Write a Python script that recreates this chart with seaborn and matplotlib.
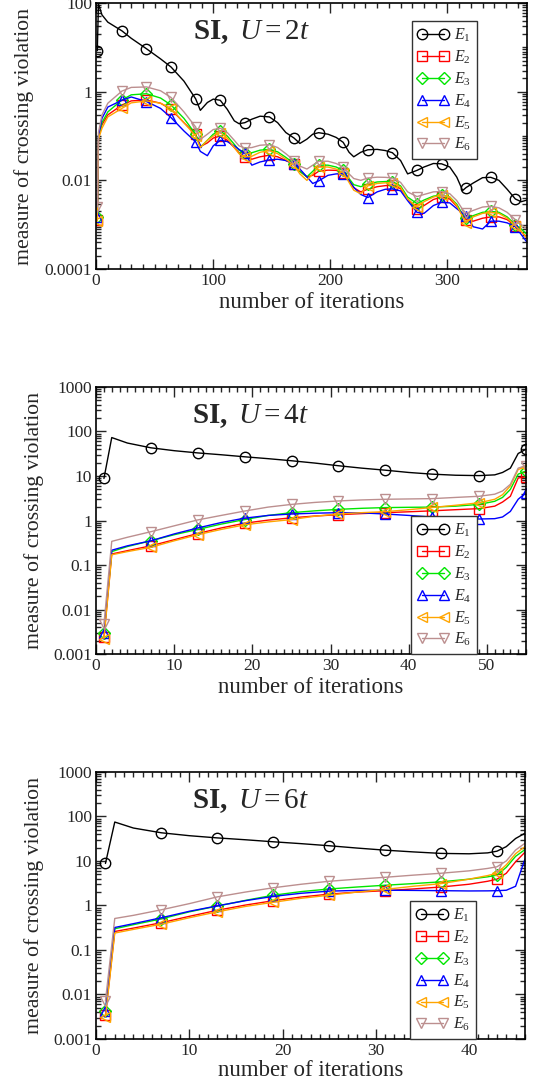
import matplotlib
matplotlib.use("Agg")
import matplotlib.pyplot as plt
import seaborn as sns
import numpy as np
from matplotlib.ticker import FixedLocator, MultipleLocator, FixedFormatter, NullFormatter

# ---------------- data ----------------
series_names = ["E1", "E2", "E3", "E4", "E5", "E6"]
legend_labels = [r"$\mathit{E_1}$", r"$\mathit{E_2}$", r"$\mathit{E_3}$",
                 r"$\mathit{E_4}$", r"$\mathit{E_5}$", r"$\mathit{E_6}$"]

# Panel 1: SI, U=2t
x_u2 = [1, 2, 5, 10, 22, 30, 43, 55, 64, 75, 85, 89, 95, 100, 106, 112, 118, 122, 127, 133,
        140, 148, 155, 162, 169, 174, 180, 185, 190, 198, 205, 211, 216, 220, 226, 232, 240,
        247, 253, 260, 266, 274, 280, 288, 295, 302, 308, 313, 316, 322, 330, 337, 344, 351,
        358, 363, 368]
u2_E1 = [8.4, 95, 54, 37, 23.6, 16, 9.3, 5.5, 3.6, 1.73, 0.69, 0.38, 0.57, 0.68, 0.64,
         0.4, 0.22, 0.19, 0.2, 0.24, 0.28, 0.27, 0.2, 0.12, 0.09, 0.068, 0.085, 0.11, 0.119, 0.11,
         0.093, 0.072, 0.043, 0.034, 0.043, 0.049, 0.05, 0.047, 0.042, 0.028,
         0.014, 0.0168, 0.02, 0.024, 0.0236, 0.02, 0.0118, 0.0059, 0.0069, 0.0087,
         0.0115, 0.0117, 0.01, 0.0063, 0.0038, 0.0033, 0.0036]
u2_E2 = [0.0013, 0.09, 0.18, 0.3, 0.5, 0.62, 0.65, 0.55, 0.4, 0.2,
         0.11, 0.058, 0.07, 0.09, 0.1, 0.08, 0.055, 0.042, 0.034, 0.03,
         0.034, 0.037, 0.034, 0.028, 0.023, 0.016, 0.012, 0.013, 0.016, 0.017,
         0.0168, 0.015, 0.01, 0.0068, 0.0055, 0.0063, 0.0072, 0.0076, 0.0078, 0.0065,
         0.0038, 0.0023, 0.0027, 0.0037, 0.0042, 0.0038, 0.0026, 0.0016, 0.0013, 0.0012,
         0.0014, 0.0015, 0.0015, 0.0013, 0.00095, 0.0007, 0.0005]
u2_E3 = [0.0015, 0.1, 0.2, 0.35, 0.65, 0.85, 0.9, 0.72, 0.5, 0.25,
         0.11, 0.056, 0.08, 0.11, 0.13, 0.1, 0.065, 0.048, 0.041, 0.042,
         0.048, 0.05, 0.044, 0.033, 0.024, 0.016, 0.012, 0.016, 0.022, 0.022,
         0.02, 0.0167, 0.011, 0.008, 0.0072, 0.0083, 0.0092, 0.0094, 0.0094, 0.0075,
         0.0042, 0.003, 0.0036, 0.0044, 0.0047, 0.0042, 0.0029, 0.0017, 0.0014, 0.0016,
         0.0019, 0.002, 0.0019, 0.0015, 0.001, 0.0008, 0.0006]
u2_E4 = [0.0015, 0.1, 0.25, 0.45, 0.64, 0.76, 0.6, 0.42, 0.26, 0.13,
         0.074, 0.045, 0.036, 0.06, 0.08, 0.075, 0.06, 0.05, 0.041, 0.022,
         0.026, 0.029, 0.03, 0.028, 0.024, 0.018, 0.012, 0.0085, 0.0097, 0.013,
         0.014, 0.014, 0.01, 0.007, 0.0048, 0.0041, 0.0055, 0.0063, 0.0064, 0.0058,
         0.0035, 0.0019, 0.0018, 0.0027, 0.0032, 0.0031, 0.0023, 0.0018, 0.0016, 0.0009,
         0.0008, 0.0012, 0.0012, 0.0011, 0.0009, 0.0006, 0.0004]
u2_E5 = [0.0012, 0.085, 0.15, 0.27, 0.42, 0.56, 0.62, 0.55, 0.42, 0.2,
         0.1, 0.055, 0.08, 0.1, 0.12, 0.09, 0.055, 0.04, 0.034, 0.035,
         0.043, 0.047, 0.04, 0.03, 0.022, 0.014, 0.01, 0.014, 0.02, 0.02,
         0.018, 0.015, 0.009, 0.006, 0.005, 0.0075, 0.0085, 0.0088, 0.0088, 0.007,
         0.0038, 0.0025, 0.0033, 0.0042, 0.0047, 0.0042, 0.0027, 0.0015, 0.0011, 0.0015,
         0.0018, 0.0019, 0.0018, 0.0014, 0.00095, 0.0007, 0.0005]
u2_E6 = [0.0025, 0.12, 0.3, 0.55, 1.03, 1.25, 1.28, 1.05, 0.74, 0.35,
         0.16, 0.084, 0.11, 0.14, 0.15, 0.12, 0.08, 0.06, 0.054, 0.055,
         0.062, 0.064, 0.055, 0.04, 0.028, 0.021, 0.018, 0.022, 0.027, 0.027,
         0.024, 0.02, 0.014, 0.011, 0.01, 0.0113, 0.0118, 0.0117, 0.0113, 0.009,
         0.0055, 0.0043, 0.0048, 0.0055, 0.0056, 0.005, 0.0035, 0.0022, 0.0018, 0.0021,
         0.0025, 0.0026, 0.0024, 0.0019, 0.0013, 0.001, 0.0008]
marks_u2 = list(range(1, 359, 21))

# Panel 2: SI, U=4t
x_u4 = [1, 2, 4, 7, 10, 13, 16, 19, 22, 25, 28, 31, 34, 37, 40, 43, 46, 49, 51, 52, 53, 54, 55]
u4_E1 = [8.8, 73, 55, 43, 37, 33, 30, 27, 24.5, 22, 19.5, 17, 15, 13.5, 12, 11, 10.4, 10.2,
         10.6, 12, 15, 32, 40]
u4_E2 = [0.0024, 0.177, 0.21, 0.27, 0.37, 0.51, 0.68, 0.87, 1.02, 1.15, 1.26, 1.35, 1.43, 1.5,
         1.57, 1.65, 1.75, 1.85, 2.1, 2.6, 3.5, 9, 9.6]
u4_E3 = [0.003, 0.2, 0.26, 0.35, 0.48, 0.63, 0.83, 1.05, 1.3, 1.5, 1.65, 1.78, 1.88, 1.95,
         1.98, 2.0, 2.1, 2.3, 2.7, 3.3, 5, 11, 13]
u4_E4 = [0.003, 0.215, 0.27, 0.35, 0.5, 0.68, 0.9, 1.13, 1.3, 1.4, 1.46, 1.5, 1.48, 1.4,
         1.3, 1.2, 1.12, 1.08, 1.1, 1.2, 1.6, 3.0, 4.2]
u4_E5 = [0.0022, 0.17, 0.2, 0.25, 0.35, 0.48, 0.63, 0.8, 0.93, 1.05, 1.25, 1.4, 1.5, 1.58,
         1.75, 1.96, 2.2, 2.5, 3.0, 3.8, 6, 14, 16]
u4_E6 = [0.0047, 0.34, 0.42, 0.56, 0.76, 1.03, 1.3, 1.63, 2.0, 2.3, 2.55, 2.75, 2.9, 3.0,
         3.05, 3.1, 3.3, 3.5, 3.9, 4.6, 6.5, 15, 17]
marks_u4 = list(range(1, 56, 6))

# Panel 3: SI, U=6t
x_u6 = [1, 2, 4, 7, 10, 13, 16, 19, 22, 25, 28, 31, 34, 37, 40, 42, 43, 44, 45, 46]
u6_E1 = [8.8, 75, 55, 43, 37, 33, 30, 27, 24.5, 22, 19.5, 17.5, 16, 14.8, 14.5, 15.2, 16.6,
         21, 32, 42]
u6_E2 = [0.0034, 0.26, 0.31, 0.41, 0.57, 0.78, 1.02, 1.28, 1.55, 1.8, 2.0, 2.15, 2.35, 2.6,
         3.0, 3.5, 3.9, 5.3, 9.6, 15.7]
u6_E3 = [0.0042, 0.3, 0.37, 0.5, 0.72, 0.97, 1.3, 1.7, 2.05, 2.35, 2.6, 2.85, 3.1, 3.4,
         3.9, 4.4, 4.8, 7.2, 12.7, 18]
u6_E4 = [0.0042, 0.32, 0.39, 0.53, 0.74, 0.98, 1.28, 1.6, 1.88, 2.1, 2.18, 2.2, 2.18, 2.15,
         2.12, 2.13, 2.15, 2.2, 2.7, 11]
u6_E5 = [0.0031, 0.24, 0.29, 0.38, 0.53, 0.72, 0.95, 1.18, 1.45, 1.7, 2.0, 2.3, 2.7, 3.1,
         3.9, 4.7, 5.3, 8.2, 14.6, 21]
u6_E6 = [0.0071, 0.51, 0.6, 0.8, 1.1, 1.56, 2.0, 2.5, 3.0, 3.5, 3.9, 4.3, 4.8, 5.3,
         6.0, 6.8, 7.4, 10, 17.6, 25]
marks_u6 = list(range(1, 44, 6))

titles = [r"$\mathbf{SI,}\ \mathit{U}\mathrm{=}\mathit{2t}$",
          r"$\mathbf{SI,}\ \mathit{U}\mathrm{=}\mathit{4t}$",
          r"$\mathbf{SI,}\ \mathit{U}\mathrm{=}\mathit{6t}$"]
xlabel = "number of iterations"
ylabel = "measure of crossing violation"

# ---------------- style ----------------
sns.set_style("ticks")
plt.rcParams['font.family'] = ['Liberation Serif', 'DejaVu Serif']
plt.rcParams['mathtext.fontset'] = 'custom'
plt.rcParams['mathtext.rm'] = 'Liberation Serif'
plt.rcParams['mathtext.it'] = 'Liberation Serif:italic'
plt.rcParams['mathtext.bf'] = 'Liberation Serif:bold'

colors = ["black", "#ff0000", "#00e600", "#0000ff", "#ffa500", "#bc8f8f"]
markers = ["o", "s", "D", "^", "<", "v"]
msizes = [7.5, 6.5, 6.0, 7.5, 7.5, 7.5]

fig = plt.figure(figsize=(5.34, 10.8), dpi=100)
ax1 = fig.add_axes([0.180, 0.7509, 0.807, 0.2463])
ax2 = fig.add_axes([0.180, 0.3944, 0.805, 0.2473])
ax3 = fig.add_axes([0.180, 0.0380, 0.803, 0.2472])

panels = [
    (ax1, x_u2, [u2_E1, u2_E2, u2_E3, u2_E4, u2_E5, u2_E6], marks_u2, (0, 368), (1e-4, 100)),
    (ax2, x_u4, [u4_E1, u4_E2, u4_E3, u4_E4, u4_E5, u4_E6], marks_u4, (0, 55), (1e-3, 1000)),
    (ax3, x_u6, [u6_E1, u6_E2, u6_E3, u6_E4, u6_E5, u6_E6], marks_u6, (0, 46), (1e-3, 1000)),
]

for p, (ax, xs, ys, marks, xlim, ylim) in enumerate(panels):
    ax.set_yscale("log")
    idx = [k for k, v in enumerate(xs) if v in marks]
    for i in range(6):
        sns.lineplot(x=xs, y=ys[i], ax=ax, estimator=None, sort=False,
                     color=colors[i], linewidth=1.0,
                     marker=markers[i], markevery=idx, markersize=msizes[i],
                     markerfacecolor="none", markeredgecolor=colors[i],
                     markeredgewidth=1.0, label=legend_labels[i])
    ax.set_xlim(*xlim)
    ax.set_ylim(*ylim)

    # y ticks
    if p == 0:
        majors = [1e-4, 1e-2, 1, 100]
        labs = ["0.0001", "0.01", "1", "100"]
        minors = [k * 10.0 ** n for n in range(-4, 2) for k in range(1, 10)
                  if not (k == 1 and n % 2 == 0)]
    else:
        majors = [1e-3, 1e-2, 1e-1, 1, 10, 100, 1000]
        labs = ["0.001", "0.01", "0.1", "1", "10", "100", "1000"]
        minors = [k * 10.0 ** n for n in range(-3, 3) for k in range(2, 10)]
    ax.yaxis.set_major_locator(FixedLocator(majors))
    ax.yaxis.set_major_formatter(FixedFormatter(labs))
    ax.yaxis.set_minor_locator(FixedLocator(minors))
    ax.yaxis.set_minor_formatter(NullFormatter())

    if p == 0:
        ax.xaxis.set_major_locator(MultipleLocator(100))
        ax.xaxis.set_minor_locator(MultipleLocator(10))
    else:
        ax.xaxis.set_major_locator(MultipleLocator(10))
        ax.xaxis.set_minor_locator(MultipleLocator(1))

    ax.tick_params(which="both", direction="in", top=True, right=True,
                   labelsize=12.5, width=1.0, pad=3)
    ax.tick_params(which="major", length=7)
    ax.tick_params(which="minor", length=3.5)
    for s in ax.spines.values():
        s.set_linewidth(1.2)
        s.set_color("black")

    ax.set_xlabel(xlabel, fontsize=16.5, va="center")
    ax.xaxis.set_label_coords(0.5, -0.125 if p < 2 else -0.118)
    ax.set_ylabel(ylabel, fontsize=15.7, va="center")
    ax.yaxis.set_label_coords(-0.168 if p == 0 else -0.145, 0.5)

    ax.text(0.36, 0.89, titles[p], transform=ax.transAxes, fontsize=21,
            ha="center", va="center")

    if p == 0:
        loc, anchor = "upper right", (0.884, 0.932)
    else:
        loc, anchor = "lower right", (0.885, 0.0)
    leg = ax.legend(loc=loc, bbox_to_anchor=anchor, fontsize=11.5, numpoints=2,
                    handlelength=2.0, handletextpad=0.3, labelspacing=0.28,
                    borderpad=0.35, borderaxespad=0.0, fancybox=False,
                    framealpha=1, edgecolor="#333333")
    leg.get_frame().set_linewidth(1.0)

fig.savefig("out.png", dpi=100)
